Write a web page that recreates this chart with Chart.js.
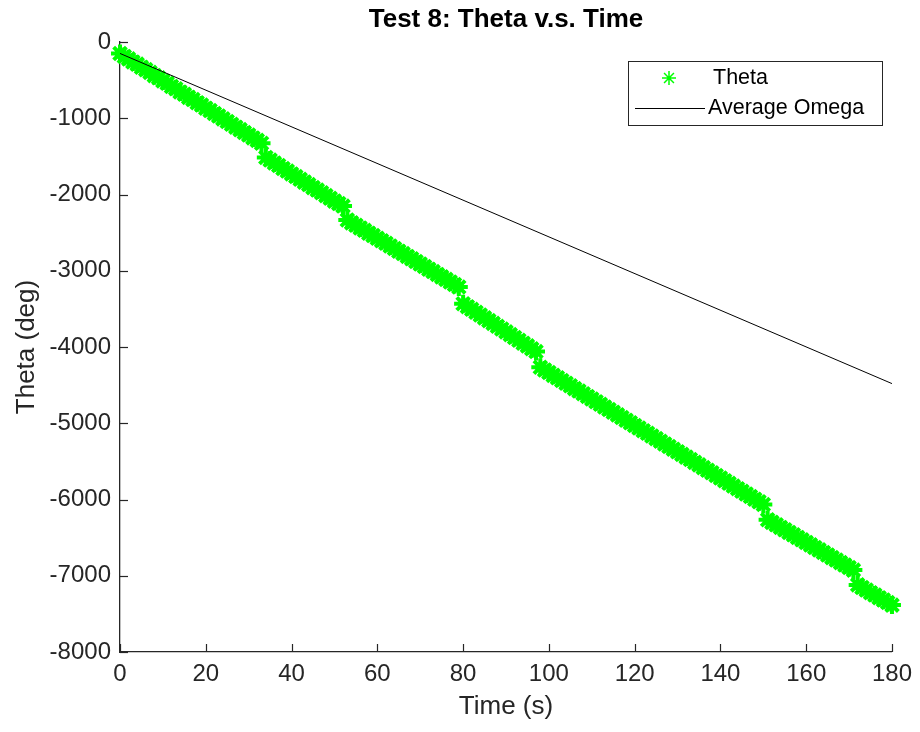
<!DOCTYPE html>
<html>
<head>
<meta charset="utf-8">
<script src="https://cdn.jsdelivr.net/npm/chart.js@4/dist/chart.umd.min.js"></script>
<style>
  html, body { margin: 0; padding: 0; background: #ffffff; }
  #wrap { width: 920px; height: 732px; position: relative; }
</style>
</head>
<body>
<div id="wrap"><canvas id="chart" width="920" height="732"></canvas></div>
<script>
// Test 8 recording: encoder angle sampled once per second (deg)
const thetaDeg = [
  -150, -190, -221, -262, -290, -331, -362, -398, -441, -470,
  -512, -541, -583, -612, -655, -684, -726, -755, -797, -826,
  -868, -898, -938, -970, -1008, -1043, -1078, -1117, -1149, -1188,
  -1220, -1258, -1290, -1328, -1515, -1548, -1588, -1619, -1660, -1692,
  -1730, -1765, -1800, -1838, -1870, -1910, -1942, -1978, -2015, -2048,
  -2087, -2118, -2152, -2335, -2372, -2403, -2440, -2470, -2508, -2538,
  -2575, -2606, -2640, -2676, -2708, -2744, -2775, -2812, -2843, -2878,
  -2912, -2944, -2980, -3011, -3048, -3080, -3113, -3148, -3180, -3214,
  -3432, -3471, -3506, -3545, -3580, -3618, -3654, -3690, -3729, -3764,
  -3802, -3838, -3876, -3911, -3950, -3985, -4024, -4060, -4265, -4302,
  -4334, -4372, -4404, -4440, -4475, -4508, -4546, -4578, -4614, -4648,
  -4682, -4718, -4751, -4788, -4820, -4856, -4890, -4925, -4960, -4993,
  -5030, -5062, -5098, -5132, -5167, -5202, -5235, -5272, -5304, -5340,
  -5374, -5408, -5444, -5476, -5513, -5546, -5582, -5616, -5650, -5686,
  -5718, -5755, -5788, -5824, -5858, -5892, -5928, -5960, -5997, -6030,
  -6066, -6265, -6300, -6331, -6366, -6397, -6432, -6463, -6498, -6529,
  -6563, -6595, -6630, -6661, -6696, -6727, -6762, -6793, -6828, -6860,
  -6893, -6926, -7120, -7155, -7186, -7222, -7252, -7288, -7318, -7352,
  -7385
];
const sampleStep = 1; // seconds between samples
const thetaTime = thetaDeg.map((_, i) => i * sampleStep);

// Straight line from the average angular velocity
const omegaTime = [0, 180];
const omegaDeg = [-150, -4480];

const xTicks = [0, 20, 40, 60, 80, 100, 120, 140, 160, 180];
const yTicks = [0, -1000, -2000, -3000, -4000, -5000, -6000, -7000, -8000];

const titleText = 'Test 8: Theta v.s. Time';
const xLabel = 'Time (s)';
const yLabel = 'Theta (deg)';
const seriesNames = ['Theta', 'Average Omega'];

const AXIS = '#262626';
const FONT = "'Liberation Sans', Arial, Helvetica, sans-serif";

const thetaPoints = thetaTime.map((t, i) => ({ x: t, y: thetaDeg[i] }));
const omegaPoints = omegaTime.map((t, i) => ({ x: t, y: omegaDeg[i] }));

// Inward tick marks, title and boxed legend
const decorations = {
  id: 'decorations',
  afterDraw(chart) {
    const ctx = chart.ctx;
    const { left, right, top, bottom } = chart.chartArea;
    const xs = chart.scales.x, ys = chart.scales.y;
    ctx.save();
    ctx.strokeStyle = AXIS;
    ctx.lineWidth = 1.2;
    const tl = 8;
    xTicks.forEach(v => {
      const px = Math.round(xs.getPixelForValue(v)) + 0.5;
      ctx.beginPath(); ctx.moveTo(px, bottom); ctx.lineTo(px, bottom - tl); ctx.stroke();
    });
    yTicks.forEach(v => {
      const py = Math.round(ys.getPixelForValue(v)) + 0.5;
      ctx.beginPath(); ctx.moveTo(left, py); ctx.lineTo(left + tl, py); ctx.stroke();
    });

    // Title
    ctx.fillStyle = '#000000';
    ctx.font = "bold 26px " + FONT;
    ctx.textAlign = 'center';
    ctx.textBaseline = 'middle';
    ctx.fillText(titleText, (left + right) / 2, 20);

    // Legend box
    const bx = 628, by = 61, bw = 254, bh = 64;
    ctx.fillStyle = '#ffffff';
    ctx.fillRect(bx, by, bw, bh);
    ctx.strokeStyle = AXIS;
    ctx.lineWidth = 1;
    ctx.strokeRect(bx + 0.5, by + 0.5, bw, bh);

    ctx.font = "21.5px " + FONT;
    ctx.textAlign = 'left';
    ctx.fillStyle = '#000000';
    const ds0 = chart.data.datasets[0];
    const ds1 = chart.data.datasets[1];
    // row 1: star marker
    const sx = 669, sy = 78, r = 7;
    ctx.strokeStyle = ds0.borderColor;
    ctx.lineWidth = 1.5;
    ctx.beginPath();
    for (let k = 0; k < 4; k++) {
      const a = k * Math.PI / 4;
      ctx.moveTo(sx - r * Math.cos(a), sy - r * Math.sin(a));
      ctx.lineTo(sx + r * Math.cos(a), sy + r * Math.sin(a));
    }
    ctx.stroke();
    ctx.fillText(seriesNames[0], 713, 78);
    // row 2: line sample
    ctx.strokeStyle = ds1.borderColor;
    ctx.lineWidth = 1;
    ctx.beginPath(); ctx.moveTo(635, 108.5); ctx.lineTo(705, 108.5); ctx.stroke();
    ctx.fillText(seriesNames[1], 708, 108);
    ctx.restore();
  }
};

const plainNumber = v => String(v);

new Chart(document.getElementById('chart'), {
  type: 'line',
  data: {
    datasets: [
      {
        label: seriesNames[0],
        data: thetaPoints,
        showLine: false,
        pointStyle: 'star',
        pointRadius: 9,
        pointBorderWidth: 4,
        borderColor: '#00ff00',
        backgroundColor: '#00ff00',
        pointBorderColor: '#00ff00',
        clip: false,
        order: 1
      },
      {
        label: seriesNames[1],
        data: omegaPoints,
        borderColor: '#000000',
        borderWidth: 1,
        pointRadius: 0,
        fill: false,
        order: 0
      }
    ]
  },
  options: {
    responsive: false,
    animation: false,
    events: [],
    layout: { padding: { left: 0, top: 42, right: 28, bottom: 0 } },
    plugins: {
      legend: { display: false },
      tooltip: { enabled: false },
      title: { display: false }
    },
    scales: {
      x: {
        type: 'linear',
        min: 0,
        max: 180,
        afterBuildTicks: s => { s.ticks = xTicks.map(v => ({ value: v })); },
        afterFit: s => { s.height = 80; },
        grid: { display: true, drawOnChartArea: false, drawTicks: false },
        border: { display: true, color: AXIS, width: 1.3 },
        ticks: { color: AXIS, font: { family: FONT, size: 24 }, padding: 8, maxRotation: 0, callback: plainNumber },
        title: { display: true, text: xLabel, color: AXIS, font: { family: FONT, size: 26 }, padding: { top: 0, bottom: 10 } }
      },
      y: {
        type: 'linear',
        min: -8000,
        max: 0,
        afterBuildTicks: s => { s.ticks = yTicks.map(v => ({ value: v })); },
        afterFit: s => { s.width = 120; },
        grid: { display: true, drawOnChartArea: false, drawTicks: false },
        border: { display: true, color: AXIS, width: 1.3 },
        ticks: { color: AXIS, font: { family: FONT, size: 24 }, padding: 9, callback: plainNumber },
        title: { display: true, text: yLabel, color: AXIS, font: { family: FONT, size: 26 }, padding: { top: 11, bottom: 0 } }
      }
    }
  },
  plugins: [decorations]
});
</script>
</body>
</html>
